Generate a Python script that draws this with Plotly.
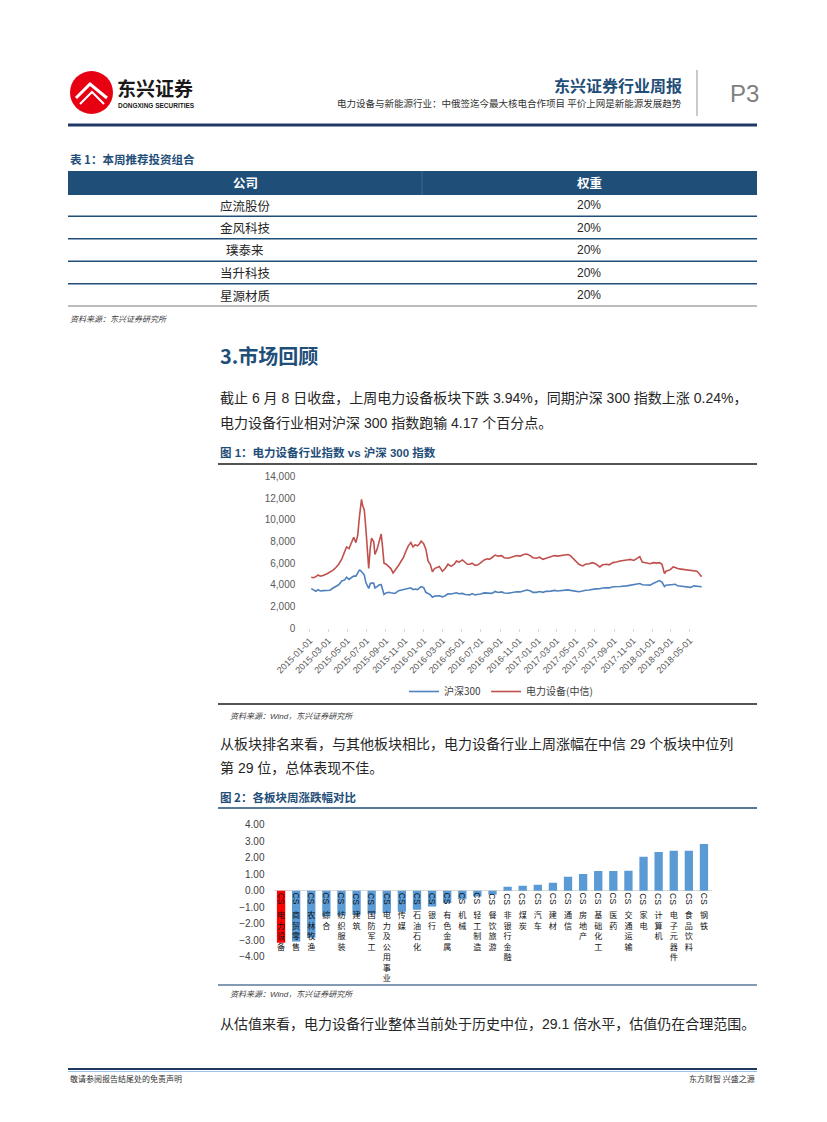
import plotly.graph_objects as go

W, H = 827, 1122
def X(px): return px / W
def Y(py): return 1 - py / H

# ---------------- data ----------------
companies = ["应流股份", "金风科技", "璞泰来", "当升科技", "星源材质"]
weights = ["20%", "20%", "20%", "20%", "20%"]

dates = [
 "2015-01-05","2015-01-12","2015-01-20","2015-01-27","2015-02-03","2015-02-12","2015-02-26","2015-03-06",
 "2015-03-16","2015-03-25","2015-04-03","2015-04-13","2015-04-22","2015-04-28","2015-05-06","2015-05-13",
 "2015-05-21","2015-05-28","2015-06-03","2015-06-08","2015-06-12","2015-06-15","2015-06-18","2015-06-24",
 "2015-06-29","2015-07-03","2015-07-08","2015-07-13","2015-07-17","2015-07-24","2015-07-28","2015-08-04",
 "2015-08-11","2015-08-17","2015-08-21","2015-08-26","2015-09-02","2015-09-10","2015-09-17","2015-09-24",
 "2015-09-30","2015-10-12","2015-10-20","2015-10-27","2015-11-04","2015-11-12","2015-11-20","2015-11-27",
 "2015-12-04","2015-12-11","2015-12-18","2015-12-23","2015-12-31","2016-01-07","2016-01-14","2016-01-21",
 "2016-01-28","2016-02-04","2016-02-19","2016-02-29","2016-03-09","2016-03-18","2016-03-28","2016-04-07",
 "2016-04-14","2016-04-22","2016-05-03","2016-05-12","2016-05-19","2016-05-27","2016-06-03","2016-06-13",
 "2016-06-22","2016-07-01","2016-07-12","2016-07-21","2016-07-28","2016-08-05","2016-08-16","2016-08-25",
 "2016-09-06","2016-09-14","2016-09-26","2016-10-12","2016-10-24","2016-11-04","2016-11-15","2016-11-25",
 "2016-12-06","2016-12-15","2016-12-26","2017-01-05","2017-01-16","2017-01-26","2017-02-10","2017-02-22",
 "2017-03-03","2017-03-15","2017-03-24","2017-04-06","2017-04-14","2017-04-25","2017-05-05","2017-05-11",
 "2017-05-23","2017-06-01","2017-06-13","2017-06-23","2017-07-03","2017-07-17","2017-07-26","2017-08-08",
 "2017-08-16","2017-08-28","2017-09-08","2017-09-20","2017-10-11","2017-10-23","2017-11-03","2017-11-13",
 "2017-11-22","2017-11-30","2017-12-12","2017-12-25","2018-01-05","2018-01-15","2018-01-24","2018-02-01",
 "2018-02-09","2018-02-14","2018-02-28","2018-03-09","2018-03-16","2018-03-23","2018-04-03","2018-04-13",
 "2018-04-23","2018-05-04","2018-05-14","2018-05-24","2018-06-01","2018-06-08"]

hs300 = [
 3640,3560,3400,3550,3430,3460,3520,3500,
 3700,3860,4000,4350,4450,4700,4500,4650,
 4800,4800,5100,5350,5330,5220,5050,4900,
 4200,4000,3660,4100,4150,4150,3700,3830,
 4000,4010,3500,3100,3250,3300,3260,3230,
 3200,3450,3500,3550,3620,3700,3720,3550,
 3600,3560,3700,3830,3730,3300,3200,3080,
 2850,2950,2980,2880,2990,3170,3150,3200,
 3260,3170,3200,3100,3070,3070,3190,3060,
 3130,3150,3250,3250,3190,3200,3380,3290,
 3340,3240,3220,3300,3360,3340,3430,3520,
 3450,3300,3300,3380,3300,3390,3410,3480,
 3420,3450,3490,3530,3480,3440,3400,3360,
 3420,3500,3520,3600,3620,3630,3700,3720,
 3710,3820,3820,3840,3900,3980,4000,4100,
 4120,4000,4000,3970,4140,4240,4390,4250,
 3840,3960,4020,4080,4050,3900,3860,3870,
 3770,3760,3900,3850,3780,3810]

power_equip = [
 4700,4650,4750,4900,4800,4850,5050,5150,
 5350,5600,5900,6400,7100,7500,7350,7900,
 8400,7900,8600,10200,11500,11900,11400,10900,
 9200,7600,5500,7400,8300,8000,6800,7300,
 8200,8700,7600,6000,5900,5700,5500,5100,
 5300,5800,6200,6500,7100,7600,7900,7500,
 7700,7600,7800,8050,7800,7300,6200,5900,
 5200,5500,5700,5250,5500,5900,5700,5900,
 6200,6100,6300,6100,5900,5900,6000,5800,
 5850,6050,6300,6400,6350,6500,6750,6650,
 6700,6500,6450,6600,6700,6650,6800,6850,
 6700,6500,6450,6550,6350,6450,6550,6700,
 6650,6700,6700,6800,6700,6400,6100,5900,
 5750,5900,5950,6050,5950,5650,5850,5900,
 5850,6050,6100,6200,6300,6350,6250,6400,
 6600,6100,6000,5950,6050,6000,6050,5900,
 5050,5250,5400,5650,5600,5500,5450,5400,
 5350,5300,5300,5250,5000,4750]

date_ticks = ["2015-01-01","2015-03-01","2015-05-01","2015-07-01","2015-09-01","2015-11-01",
              "2016-01-01","2016-03-01","2016-05-01","2016-07-01","2016-09-01","2016-11-01",
              "2017-01-01","2017-03-01","2017-05-01","2017-07-01","2017-09-01","2017-11-01",
              "2018-01-01","2018-03-01","2018-05-01"]
y1_ticks = [0, 2000, 4000, 6000, 8000, 10000, 12000, 14000]

sectors = ["CS电力设备","CS商贸零售","CS农林牧渔","CS综合","CS纺织服装","CS建筑","CS国防军工",
           "CS电力及公用事业","CS传媒","CS石油石化","CS银行","CS有色金属","CS机械","CS轻工制造",
           "CS餐饮旅游","CS非银行金融","CS煤炭","CS汽车","CS建材","CS通信","CS房地产","CS基础化工",
           "CS医药","CS交通运输","CS家电","CS计算机","CS电子元器件","CS食品饮料","CS钢铁"]
weekly_change = [-3.15,-3.08,-2.85,-1.55,-1.50,-1.45,-1.40,-1.35,-1.28,-1.15,-0.95,-0.75,-0.52,-0.35,
                 -0.25,0.24,0.30,0.36,0.48,0.85,1.01,1.20,1.20,1.21,2.06,2.34,2.42,2.42,2.83]
y2_ticks = [4, 3, 2, 1, 0, -1, -2, -3, -4]

# ---------------- styles ----------------
BLUE = "#1f4e79"
LAT = "Liberation Sans, Noto Sans CJK SC"
CJK = "Noto Sans CJK SC, Liberation Sans"
TXT = "#262626"

fig = go.Figure()

fig.add_trace(go.Scatter(x=dates, y=hs300, mode="lines", name="沪深300",
                         line=dict(color="#4f81bd", width=1.6), xaxis="x", yaxis="y"))
fig.add_trace(go.Scatter(x=dates, y=power_equip, mode="lines", name="电力设备(中信)",
                         line=dict(color="#c0504d", width=1.6), xaxis="x", yaxis="y"))

bar_colors = ["#ff0000"] + ["#5b9bd5"] * (len(sectors) - 1)
fig.add_trace(go.Bar(x=sectors, y=weekly_change, marker=dict(color=bar_colors, line=dict(width=0)),
                     showlegend=False, xaxis="x2", yaxis="y2"))

shapes = []
ann = []

def text(x, y, s, size, color=TXT, bold=False, xanchor="left", family=CJK, italic=False):
    if bold:
        s = "<b>" + s + "</b>"
    if italic:
        s = "<i>" + s + "</i>"
    ann.append(dict(x=X(x), y=Y(y), xref="paper", yref="paper", text=s, showarrow=False,
                    xanchor=xanchor, yanchor="middle", font=dict(size=size, color=color, family=family)))

def hline(x0, x1, y, color, width):
    shapes.append(dict(type="line", xref="paper", yref="paper", x0=X(x0), x1=X(x1), y0=Y(y), y1=Y(y),
                       line=dict(color=color, width=width)))

# ---------------- header ----------------
shapes.append(dict(type="circle", xref="paper", yref="paper", x0=X(70), x1=X(113), y0=Y(114), y1=Y(71),
                   fillcolor="#e60012", line=dict(width=0)))
def path(pts):
    return "M " + " L ".join(f"{X(a):.5f},{Y(b):.5f}" for a, b in pts)
shapes.append(dict(type="path", xref="paper", yref="paper",
                   path=path([(76, 98), (90, 84), (107, 98)]), line=dict(color="white", width=3)))
shapes.append(dict(type="path", xref="paper", yref="paper",
                   path=path([(80, 104), (92, 92), (104, 104)]), line=dict(color="white", width=2)))
text(115, 87.5, "东兴证券", 19, "#1a1a1a", True)
text(116, 105, "DONGXING SECURITIES", 6.5, "#1a1a1a", True, family=LAT)
text(684, 85, "东兴证券行业周报", 16, BLUE, True, xanchor="right")
text(684, 103, "电力设备与新能源行业：中俄签迄今最大核电合作项目 平价上网是新能源发展趋势", 9.5, "#333333",
     xanchor="right")
shapes.append(dict(type="line", xref="paper", yref="paper", x0=X(697), x1=X(697), y0=Y(116), y1=Y(70),
                   line=dict(color="#a6a6a6", width=1.2)))
text(744, 94, "P3", 24, "#7f7f7f", xanchor="center", family=LAT)
hline(68, 757, 125, "#1f3864", 3)

# ---------------- table ----------------
text(68, 159, "表 1：本周推荐投资组合", 11.5, BLUE, True)
shapes.append(dict(type="rect", xref="paper", yref="paper", x0=X(68), x1=X(757), y0=Y(195), y1=Y(171),
                   fillcolor=BLUE, line=dict(width=0)))
shapes.append(dict(type="line", xref="paper", yref="paper", x0=X(422), x1=X(422), y0=Y(195), y1=Y(171),
                   line=dict(color="#4a6f95", width=0.8)))
text(245, 183, "公司", 12.5, "white", True, xanchor="center")
text(589, 183, "权重", 12.5, "white", True, xanchor="center")
row_h = 22.5
for i, (c, w) in enumerate(zip(companies, weights)):
    yc = 205 + i * row_h
    text(245, yc, c, 12.5, TXT, xanchor="center")
    text(589, yc, w, 12, TXT, xanchor="center", family=LAT)
    if i < len(companies) - 1:
        hline(68, 757, yc + 11.2, BLUE, 1.5)
hline(68, 757, 306, "#a6a6a6", 1.5)
text(68, 318, "资料来源：东兴证券研究所", 8, "#404040", italic=True)

# ---------------- section text ----------------
text(218, 355, "3.市场回顾", 20, BLUE, True)
text(218, 398, "截止 6 月 8 日收盘，上周电力设备板块下跌 3.94%，同期沪深 300 指数上涨 0.24%，", 14, TXT, family=LAT)
text(218, 423, "电力设备行业相对沪深 300 指数跑输 4.17 个百分点。", 14, TXT, family=LAT)

text(218, 452, "图 1：电力设备行业指数 vs 沪深 300 指数", 11.5, BLUE, True, family=LAT)
hline(218, 757, 464, "#1a1a1a", 1.5)
hline(218, 757, 704, "#1a1a1a", 1.5)
text(228, 716, "资料来源：Wind，东兴证券研究所", 8, "#404040", italic=True, family=LAT)

text(218, 744, "从板块排名来看，与其他板块相比，电力设备行业上周涨幅在中信 29 个板块中位列", 14, TXT, family=LAT)
text(218, 768, "第 29 位，总体表现不佳。", 14, TXT, family=LAT)

text(218, 797, "图 2：各板块周涨跌幅对比", 11.5, BLUE, True)
hline(218, 757, 808, BLUE, 1.5)
hline(218, 757, 985, "#5a7a99", 1.5)
text(228, 994, "资料来源：Wind，东兴证券研究所", 8, "#404040", italic=True, family=LAT)

text(218, 1024, "从估值来看，电力设备行业整体当前处于历史中位，29.1 倍水平，估值仍在合理范围。", 14, TXT, family=LAT)

# ---------------- footer ----------------
hline(68, 757, 1069, "#1f3864", 2)
hline(68, 757, 1071.5, "#9dc3e6", 1)
text(68, 1078, "敬请参阅报告结尾处的免责声明", 8, "#333333")
text(757, 1078, "东方财智 兴盛之源", 8, "#333333", xanchor="right")

# ---------------- bar category labels: rotated "CS" + stacked characters as tick text ----------------
for name in sectors:
    ann.append(dict(x=name, y=0, xref="x2", yref="y2", text=name[:2], textangle=90, showarrow=False,
                    yshift=-8.0, xanchor="center", yanchor="middle",
                    font=dict(size=8.5, color="#111111", family=LAT)))
stacked = ["<br>".join(list(n[2:])) for n in sectors]

fig.update_layout(
    width=W, height=H, margin=dict(l=0, r=0, t=0, b=0, autoexpand=False),
    paper_bgcolor="white", plot_bgcolor="white",
    font=dict(family=LAT, color=TXT),
    shapes=shapes, annotations=ann,
    showlegend=True,
    legend=dict(orientation="h", x=X(404), y=Y(677), xanchor="left", yanchor="top",
                font=dict(size=10, color="#404040", family=CJK), bgcolor="rgba(0,0,0,0)",
                itemwidth=30, tracegroupgap=0),
    bargap=0.45,
    xaxis=dict(domain=[X(300.3), X(708.8)], range=["2014-12-01", "2018-07-01"], type="date",
               tickvals=date_ticks, ticktext=date_ticks, tickangle=-45,
               tickfont=dict(size=9, color="#595959", family=LAT),
               showgrid=False, zeroline=False, showline=False, ticks="outside", ticklen=3,
               tickcolor="#d9d9d9", anchor="y", automargin=False),
    yaxis=dict(domain=[Y(628), Y(476.7)], range=[0, 14000], tickvals=y1_ticks, tickformat=",",
               tickfont=dict(size=10, color="#595959", family=LAT), ticklabelstandoff=4,
               showgrid=False, zeroline=False, showline=False, anchor="x", automargin=False),
    xaxis2=dict(domain=[X(273.5), X(711.5)], range=[-0.5, len(sectors) - 0.5], type="category",
                tickvals=sectors, ticktext=stacked, tickangle=0,
                tickfont=dict(size=8.1, color="#111111", family=CJK),
                anchor="free", position=Y(909), side="bottom", ticks="", ticklen=0,
                showgrid=False, zeroline=False, showline=False, automargin=False),
    yaxis2=dict(domain=[Y(961.7), Y(819.75)], range=[-4.3, 4.3], tickvals=y2_ticks, tickformat=".2f",
                tickfont=dict(size=10, color="#404040", family=LAT), ticklabelstandoff=8,
                showgrid=False, zeroline=True, zerolinecolor="#d9d9d9", zerolinewidth=1,
                showline=False, anchor="x2", automargin=False),
)

fig.write_html("out.html", config={"displayModeBar": False},
               post_script="document.body.style.margin='0px';")
